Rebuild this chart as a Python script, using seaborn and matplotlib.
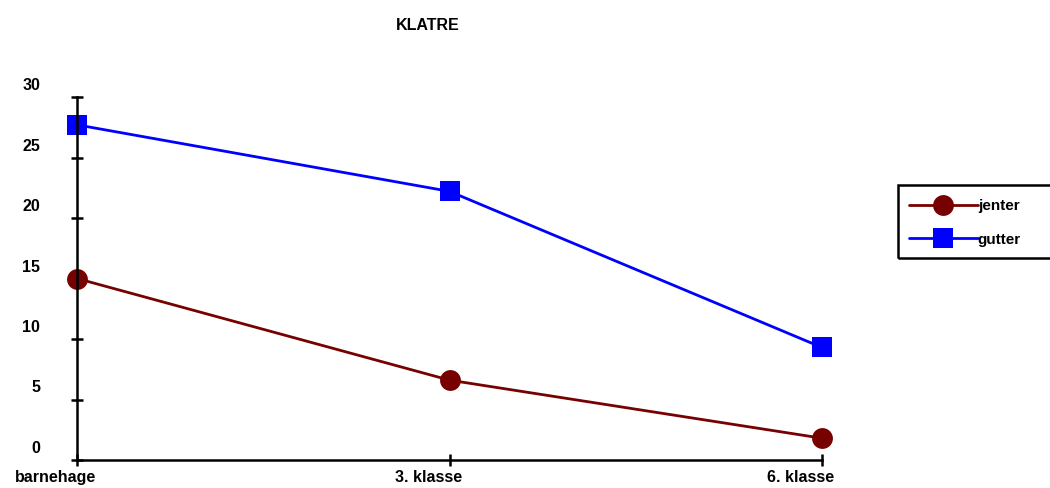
import matplotlib
matplotlib.use("Agg")
import matplotlib.pyplot as plt
from matplotlib.transforms import ScaledTranslation
from matplotlib.lines import Line2D
from matplotlib.patches import Rectangle
import seaborn as sns
import pandas as pd

categories = ["barnehage", "3. klasse", "6. klasse"]
jenter = [15.0, 6.6, 1.8]
gutter = [27.7, 22.2, 9.3]
series_names = ["jenter", "gutter"]
yticks = [0, 5, 10, 15, 20, 25, 30]

df = pd.DataFrame({
    "klasse": categories * 2,
    "verdi": jenter + gutter,
    "kjønn": ["jenter"] * 3 + ["gutter"] * 3,
})

sns.set_theme(style="white")
plt.rcParams["font.family"] = ["Liberation Sans", "DejaVu Sans"]
plt.rcParams["font.weight"] = "bold"

colors = {"jenter": "#770000", "gutter": "#0000ff"}
markers = {"jenter": "o", "gutter": "s"}

fig = plt.figure(figsize=(10.5, 4.88), dpi=100)
ax = fig.add_axes([77 / 1050, 1 - 460 / 488, (822 - 77) / 1050, (460 - 97) / 488])

sns.lineplot(data=df, x="klasse", y="verdi", hue="kjønn", style="kjønn",
             hue_order=series_names, style_order=series_names,
             palette=colors, markers=markers, dashes=False,
             markersize=15, markeredgewidth=0, linewidth=2, ax=ax, legend=False)
for ln in ax.lines:
    ln.set_clip_on(False)

ax.set_xlim(0, 2)
ax.set_ylim(0, 30)
ax.set_yticks(yticks)
ax.set_yticklabels([str(v) for v in yticks])
ax.set_xlabel("")
ax.set_ylabel("")
for s in ["top", "right"]:
    ax.spines[s].set_visible(False)
for s in ["left", "bottom"]:
    ax.spines[s].set_color("black")
    ax.spines[s].set_linewidth(1.8)
ax.tick_params(axis="y", direction="inout", length=9, width=1.8, color="black",
               pad=22, labelsize=11.5, labelcolor="black")
ax.tick_params(axis="x", direction="inout", length=9, width=1.8, color="black",
               pad=3, labelsize=11.5, labelcolor="black")
ax.tick_params(left=True, bottom=True)
for lab in ax.get_yticklabels():
    lab.set_fontweight("bold")
    lab.set_transform(lab.get_transform() + ScaledTranslation(0, 13 / 100, fig.dpi_scale_trans))
for lab in ax.get_xticklabels():
    lab.set_fontweight("bold")
    lab.set_transform(lab.get_transform() + ScaledTranslation(-21 / 100, 0, fig.dpi_scale_trans))

fig.text(428 / 1050, 1 - 25 / 488, "KLATRE", ha="center", va="center",
         fontsize=11.5, fontweight="bold", color="black")

# legend frame (extends past the right edge, as in the reference)
fig.patches.append(Rectangle((898 / 1050, 1 - 258 / 488), 170 / 1050, 73 / 488,
                             transform=fig.transFigure, fill=False,
                             edgecolor="black", linewidth=1.8, clip_on=False))

handles = [Line2D([], [], color=colors[n], marker=markers[n], markersize=15,
                  markeredgewidth=0, linewidth=2) for n in series_names]
leg = ax.legend(handles, series_names,
                loc="center left", bbox_to_anchor=(909 / 1050, 1 - 223 / 488),
                bbox_transform=fig.transFigure, borderaxespad=0,
                frameon=False, handlelength=4.5, handletextpad=0.0,
                borderpad=0.0, labelspacing=1.25, prop={"weight": "bold", "size": 11})
for t in leg.get_texts():
    t.set_color("black")

fig.savefig("out.png", dpi=100)
